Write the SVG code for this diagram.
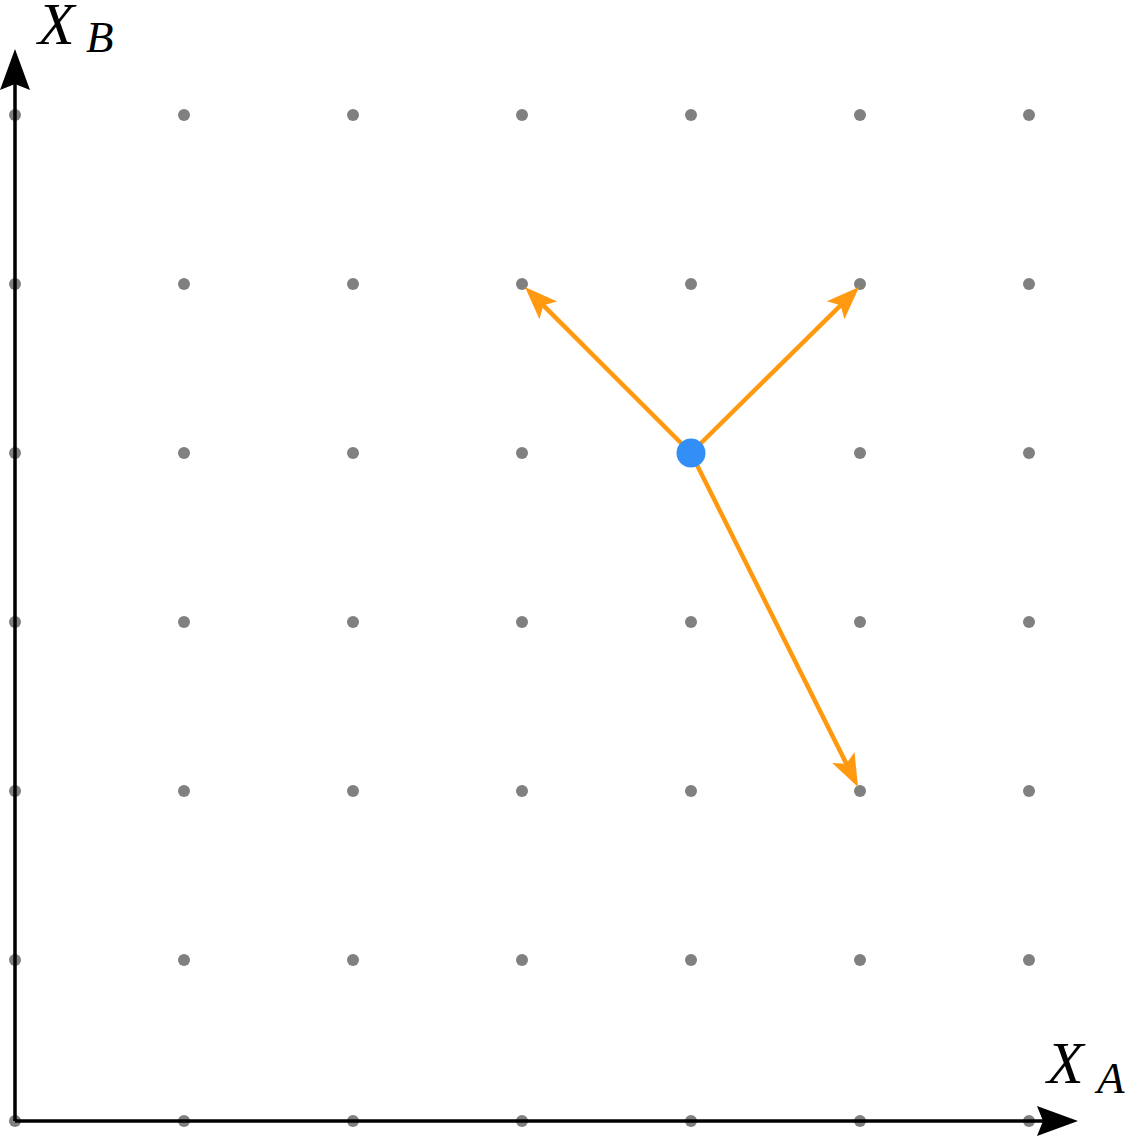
<svg xmlns="http://www.w3.org/2000/svg" width="1132" height="1137" viewBox="0 0 1132 1137">
<style>
.dot{fill:#808080}
.axis{stroke:#000;stroke-width:3.5;fill:none}
.vec{stroke:#FF9A10;stroke-width:4.5;fill:none}
.lbl{font-family:"Liberation Serif",serif;font-style:italic;fill:#000}
</style>
<defs>
<marker id="axhead" markerUnits="userSpaceOnUse" viewBox="-30 -16 43 32" markerWidth="43" markerHeight="32" refX="0" refY="0" orient="auto">
<path d="M12,0 L-29,-15 L-23,0 L-29,15 Z" fill="#000"/>
</marker>
<marker id="vhead" markerUnits="userSpaceOnUse" viewBox="-14 -13 35 26" markerWidth="35" markerHeight="26" refX="0" refY="0" orient="auto">
<path d="M20,0 L-13,-12.5 L-6,0 L-13,12.5 Z" fill="#FF9A10"/>
</marker>
</defs>
<g id="grid">
<g id="row1"><circle class="dot" cx="15" cy="115" r="6"/><circle class="dot" cx="184" cy="115" r="6"/><circle class="dot" cx="353" cy="115" r="6"/><circle class="dot" cx="522" cy="115" r="6"/><circle class="dot" cx="691" cy="115" r="6"/><circle class="dot" cx="860" cy="115" r="6"/><circle class="dot" cx="1029" cy="115" r="6"/></g>
<g id="row2"><circle class="dot" cx="15" cy="284" r="6"/><circle class="dot" cx="184" cy="284" r="6"/><circle class="dot" cx="353" cy="284" r="6"/><circle class="dot" cx="522" cy="284" r="6"/><circle class="dot" cx="691" cy="284" r="6"/><circle class="dot" cx="860" cy="284" r="6"/><circle class="dot" cx="1029" cy="284" r="6"/></g>
<g id="row3"><circle class="dot" cx="15" cy="453" r="6"/><circle class="dot" cx="184" cy="453" r="6"/><circle class="dot" cx="353" cy="453" r="6"/><circle class="dot" cx="522" cy="453" r="6"/><circle class="dot" cx="691" cy="453" r="6"/><circle class="dot" cx="860" cy="453" r="6"/><circle class="dot" cx="1029" cy="453" r="6"/></g>
<g id="row4"><circle class="dot" cx="15" cy="622" r="6"/><circle class="dot" cx="184" cy="622" r="6"/><circle class="dot" cx="353" cy="622" r="6"/><circle class="dot" cx="522" cy="622" r="6"/><circle class="dot" cx="691" cy="622" r="6"/><circle class="dot" cx="860" cy="622" r="6"/><circle class="dot" cx="1029" cy="622" r="6"/></g>
<g id="row5"><circle class="dot" cx="15" cy="791" r="6"/><circle class="dot" cx="184" cy="791" r="6"/><circle class="dot" cx="353" cy="791" r="6"/><circle class="dot" cx="522" cy="791" r="6"/><circle class="dot" cx="691" cy="791" r="6"/><circle class="dot" cx="860" cy="791" r="6"/><circle class="dot" cx="1029" cy="791" r="6"/></g>
<g id="row6"><circle class="dot" cx="15" cy="960" r="6"/><circle class="dot" cx="184" cy="960" r="6"/><circle class="dot" cx="353" cy="960" r="6"/><circle class="dot" cx="522" cy="960" r="6"/><circle class="dot" cx="691" cy="960" r="6"/><circle class="dot" cx="860" cy="960" r="6"/><circle class="dot" cx="1029" cy="960" r="6"/></g>
<g id="row7"><circle class="dot" cx="15" cy="1121" r="6"/><circle class="dot" cx="184" cy="1121" r="6"/><circle class="dot" cx="353" cy="1121" r="6"/><circle class="dot" cx="522" cy="1121" r="6"/><circle class="dot" cx="691" cy="1121" r="6"/><circle class="dot" cx="860" cy="1121" r="6"/><circle class="dot" cx="1029" cy="1121" r="6"/></g>
</g>
<g id="axes">
<line class="axis" x1="15" y1="1121" x2="15" y2="61" marker-end="url(#axhead)"/>
<line class="axis" x1="15" y1="1121" x2="1066" y2="1121" marker-end="url(#axhead)"/>
</g>
<g id="connectors">
<line class="vec" x1="691" y1="453" x2="539.1" y2="301.1" marker-end="url(#vhead)"/>
<line class="vec" x1="691" y1="453" x2="844.9" y2="301.1" marker-end="url(#vhead)"/>
<line class="vec" x1="691" y1="453" x2="849.1" y2="769.1" marker-end="url(#vhead)"/>
</g>
<g id="state">
<circle cx="691" cy="453" r="14.5" fill="#338FF5"/>
</g>
<g id="label-xb">
<text class="lbl" x="38" y="44" font-size="60">X</text>
<text class="lbl" x="86" y="52" font-size="45">B</text>
</g>
<g id="label-xa">
<text class="lbl" x="1047" y="1083" font-size="60">X</text>
<text class="lbl" x="1097" y="1093" font-size="45">A</text>
</g>
</svg>
